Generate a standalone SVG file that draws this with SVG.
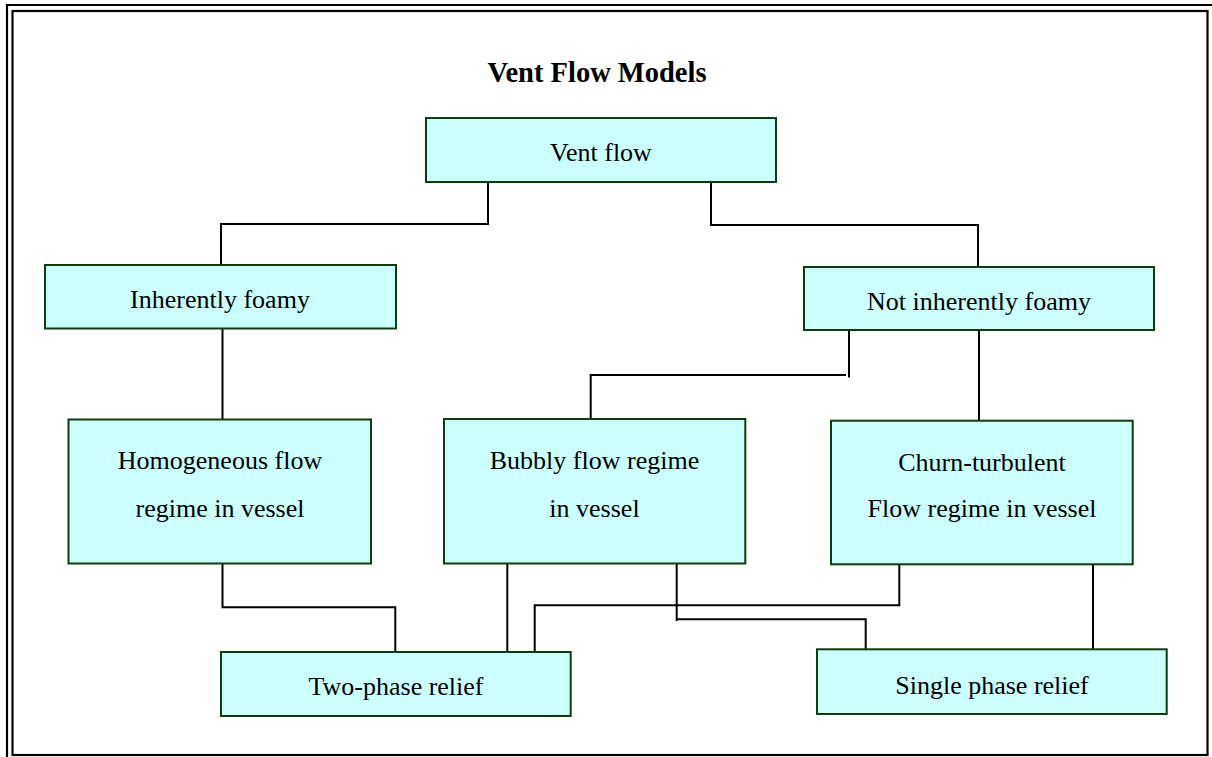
<svg xmlns="http://www.w3.org/2000/svg" width="1212" height="757" viewBox="0 0 1212 757">
<style>
.box{fill:#ccffff;stroke:#0d3d0d;stroke-width:2}
.t{font-family:"Liberation Serif","Times New Roman",serif;font-size:26px;fill:#000;text-anchor:middle}
.title{font-family:"Liberation Serif","Times New Roman",serif;font-size:28.5px;font-weight:bold;fill:#000;text-anchor:middle}
.c{fill:none;stroke:#000;stroke-width:2}
.frame{fill:none;stroke:#000;stroke-width:2.2}
</style>
<rect width="1212" height="757" fill="#fff"/>
<g id="frame">
<path class="frame" d="M7,757 V5 H1212"/>
<rect class="frame" x="12.5" y="11" width="1195" height="744"/>
</g>
<text class="title" x="597" y="82">Vent Flow Models</text>
<g id="connectors">
<path class="c" d="M488,182 V224 H221 V265"/>
<path class="c" d="M711,182 V225 H978 V267"/>
<path class="c" d="M222.5,328 V419"/>
<path class="c" d="M979,330 V421"/>
<path class="c" d="M849,330 V377.5"/>
<path class="c" d="M846,375 H590.7 V419"/>
<path class="c" d="M222.5,564 V607.3 H395.3 V652"/>
<path class="c" d="M507.3,564 V652"/>
<path class="c" d="M534.7,652 V605.3 H899.3 V564"/>
<path class="c" d="M676.7,564 V621"/>
<path class="c" d="M676.7,619.3 H865.7 V649.3"/>
<path class="c" d="M1093,564 V649.3"/>
</g>
<g id="vent-flow">
<rect class="box" x="426" y="118" width="350" height="64"/>
<text class="t" x="601" y="160.5">Vent flow</text>
</g>
<g id="inherently-foamy">
<rect class="box" x="45" y="265" width="351" height="63.5"/>
<text class="t" x="220" y="307.5">Inherently foamy</text>
</g>
<g id="not-inherently-foamy">
<rect class="box" x="804" y="267" width="350" height="63"/>
<text class="t" x="979" y="310">Not inherently foamy</text>
</g>
<g id="homogeneous">
<rect class="box" x="68.5" y="419.5" width="302.5" height="144"/>
<text class="t" x="220" y="469">Homogeneous flow</text>
<text class="t" x="220" y="517">regime in vessel</text>
</g>
<g id="bubbly">
<rect class="box" x="444" y="419" width="301.3" height="144.5"/>
<text class="t" x="594.5" y="469">Bubbly flow regime</text>
<text class="t" x="594.5" y="517">in vessel</text>
</g>
<g id="churn">
<rect class="box" x="831" y="420.7" width="301.7" height="143.6"/>
<text class="t" x="982" y="471">Churn-turbulent</text>
<text class="t" x="982" y="517.3">Flow regime in vessel</text>
</g>
<g id="two-phase">
<rect class="box" x="221" y="652" width="349.7" height="64"/>
<text class="t" x="396" y="695">Two-phase relief</text>
</g>
<g id="single-phase">
<rect class="box" x="817" y="649.3" width="349.7" height="64.7"/>
<text class="t" x="992" y="694">Single phase relief</text>
</g>
</svg>
